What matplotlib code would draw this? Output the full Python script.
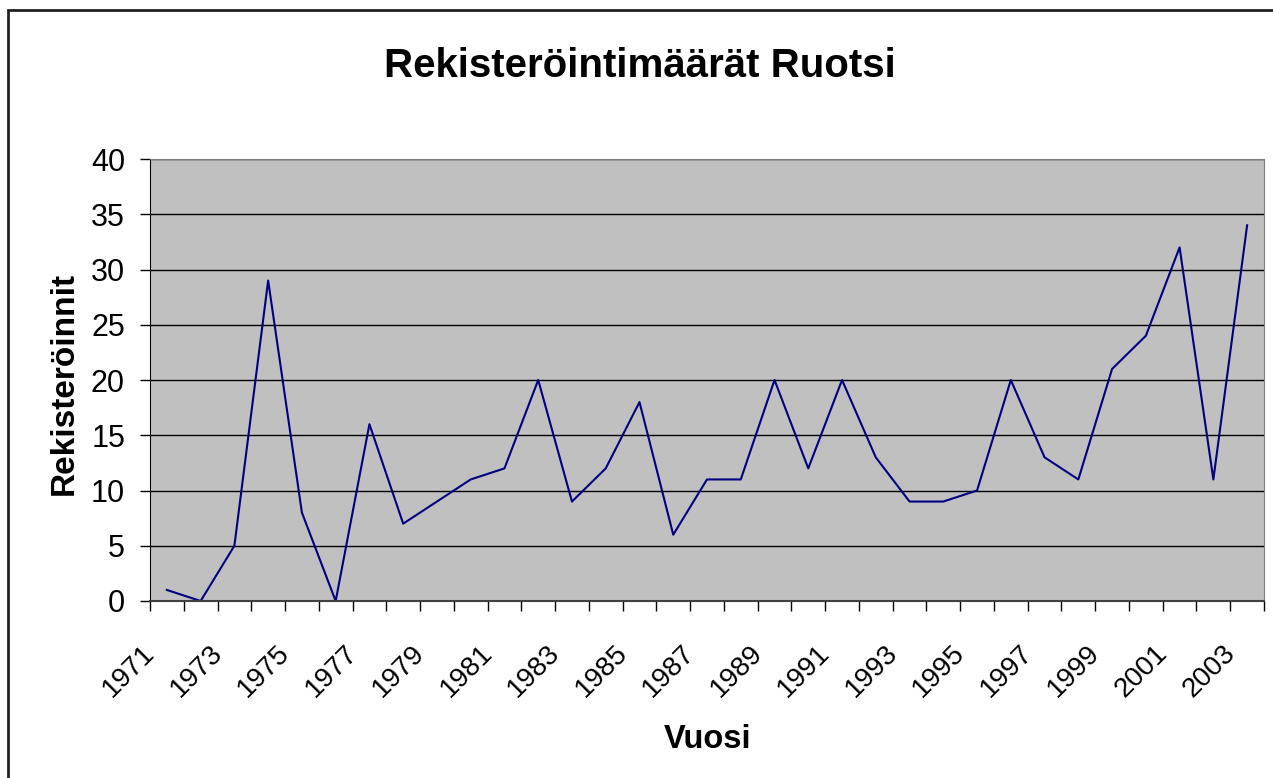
import matplotlib
matplotlib.use("Agg")
import matplotlib.pyplot as plt
import matplotlib.transforms as mtransforms
from matplotlib.patches import Rectangle

years = list(range(1971, 2004))
registrations = [1, 0, 5, 29, 8, 0, 16, 7, 9, 11, 12, 20, 9, 12, 18, 6, 11, 11,
                 20, 12, 20, 13, 9, 9, 10, 20, 13, 11, 21, 24, 32, 11, 34]
tick_years = years[::2]

plt.rcParams['font.family'] = ['Liberation Sans', 'DejaVu Sans']

fig = plt.figure(figsize=(12.73, 7.78), dpi=100)
W, H = 1273, 778

# outer chart border (Excel style)
fig.patches.append(Rectangle((8 / W, -0.01), 1.0, 1 - 10 / H + 0.01, transform=fig.transFigure,
                             fill=False, edgecolor='#222222', linewidth=2))

ax = fig.add_axes([150 / W, (H - 601) / H, (1264 - 150) / W, (601 - 159) / H])
ax.set_facecolor('#c0c0c0')

n = len(years)
x = [i + 0.5 for i in range(n)]
ax.plot(x, registrations, color='#000080', linewidth=1.5)

ax.set_xlim(0, n)
ax.set_ylim(0, 40)
ax.set_yticks(range(0, 41, 5))
ax.yaxis.grid(True, color='black', linewidth=1)
ax.set_axisbelow(True)

# ticks between categories, labels every second year (drawn as rotated text)
ax.set_xticks(range(0, n + 1))
ax.set_xticklabels([])
ax.tick_params(axis='x', length=7, width=1, direction='out')
ax.tick_params(axis='y', length=7, width=1, direction='out', labelsize=22, pad=11)

offset = mtransforms.ScaledTranslation(-11 / 100, -53 / 100, fig.dpi_scale_trans)
lbl_trans = ax.get_xaxis_transform() + offset
for i, yr in enumerate(years):
    if yr in tick_years:
        ax.text(i + 0.5, 0, str(yr), transform=lbl_trans, rotation=45,
                rotation_mode='anchor', ha='right', va='baseline', fontsize=20)

for side in ['top', 'right']:
    ax.spines[side].set_color('#808080')
ax.spines['left'].set_color('black')
ax.spines['bottom'].set_color('#404040')
ax.spines['bottom'].set_linewidth(1.5)

fig.text(708 / W, 1 - 748 / H, 'Vuosi', fontsize=23.5, fontweight='bold',
         ha='center', va='baseline')
fig.text(73 / W, 1 - 383 / H, 'Rekisteröinnit', fontsize=24, fontweight='bold',
         rotation=90, rotation_mode='anchor', ha='center', va='baseline')
fig.text(640 / W, 1 - 77 / H, 'Rekisteröintimäärät Ruotsi', fontsize=29,
         fontweight='bold', ha='center', va='baseline')

fig.savefig('out.png', dpi=100)
